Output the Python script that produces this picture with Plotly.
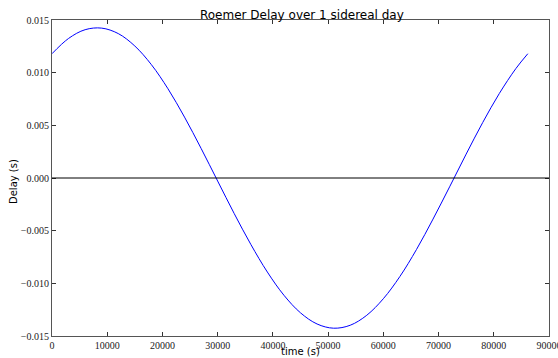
import plotly.graph_objects as go

time_s = [0, 3000, 6000, 9000, 12000, 15000, 18000, 21000, 24000, 27000,
          30000, 33000, 36000, 39000, 42000, 45000, 48000, 51000, 54000, 57000,
          60000, 63000, 66000, 69000, 72000, 75000, 78000, 81000, 84000, 86164]
delay_s = [0.01180, 0.01325, 0.01408, 0.01423, 0.01371, 0.01253, 0.01076, 0.00847,
           0.00578, 0.00281, -0.00029, -0.00338, -0.00630, -0.00893, -0.01113,
           -0.01280, -0.01386, -0.01426, -0.01398, -0.01303, -0.01146, -0.00935,
           -0.00679, -0.00390, -0.00084, 0.00227, 0.00527, 0.00802, 0.01039, 0.01180]

x_ticks = [0, 10000, 20000, 30000, 40000, 50000, 60000, 70000, 80000, 90000]
y_ticks = [-0.015, -0.010, -0.005, 0.000, 0.005, 0.010, 0.015]

fig = go.Figure()
fig.add_trace(go.Scatter(x=time_s, y=delay_s, mode="lines",
                         line=dict(color="#0000ff", width=1, shape="spline"),
                         showlegend=False, hoverinfo="skip"))
fig.add_hline(y=0, line=dict(color="black", width=1))

serif = "Liberation Serif, DejaVu Serif, serif"
sans = "DejaVu Sans, sans-serif"
W, H = 558, 358
L, R, T, B = 52, 9, 20, 22
fig.update_layout(
    width=W, height=H,
    margin=dict(l=L, r=R, t=T, b=B, autoexpand=False),
    paper_bgcolor="white", plot_bgcolor="white",
    title=dict(text="Roemer Delay over 1 sidereal day", x=0.541, xanchor="center",
               y=0.958, yanchor="middle", font=dict(family=sans, size=12, color="black")),
    xaxis=dict(range=[0, 90000], tickvals=x_ticks, ticktext=[str(v) for v in x_ticks],
               ticks="inside", ticklen=4, tickcolor="#333", showline=True, linecolor="#555",
               linewidth=1, mirror="ticks", showgrid=False, zeroline=False, automargin=False,
               ticklabeloverflow="allow", ticklabelstandoff=0,
               tickfont=dict(family=serif, size=10, color="#222")),
    yaxis=dict(range=[-0.015, 0.015], tickvals=y_ticks, tickformat=".3f",
               ticks="inside", ticklen=4, tickcolor="#333", showline=True, linecolor="#555",
               linewidth=1, mirror="ticks", showgrid=False, zeroline=False, automargin=False,
               ticklabeloverflow="allow",
               tickfont=dict(family=serif, size=10, color="#222")),
    annotations=[
        dict(text="time (s)", xref="paper", yref="paper", x=0.5, y=-(351 - (H - B)) / (H - T - B),
             xanchor="center", yanchor="middle", showarrow=False,
             font=dict(family=sans, size=10, color="black")),
        dict(text="Delay (s)", xref="paper", yref="paper", x=-(L - 13) / (W - L - R),
             y=((H - B) - 182) / (H - T - B), xanchor="center", yanchor="middle",
             textangle=-90, showarrow=False, font=dict(family=sans, size=10, color="black")),
    ],
)
fig.write_html("out.html")
